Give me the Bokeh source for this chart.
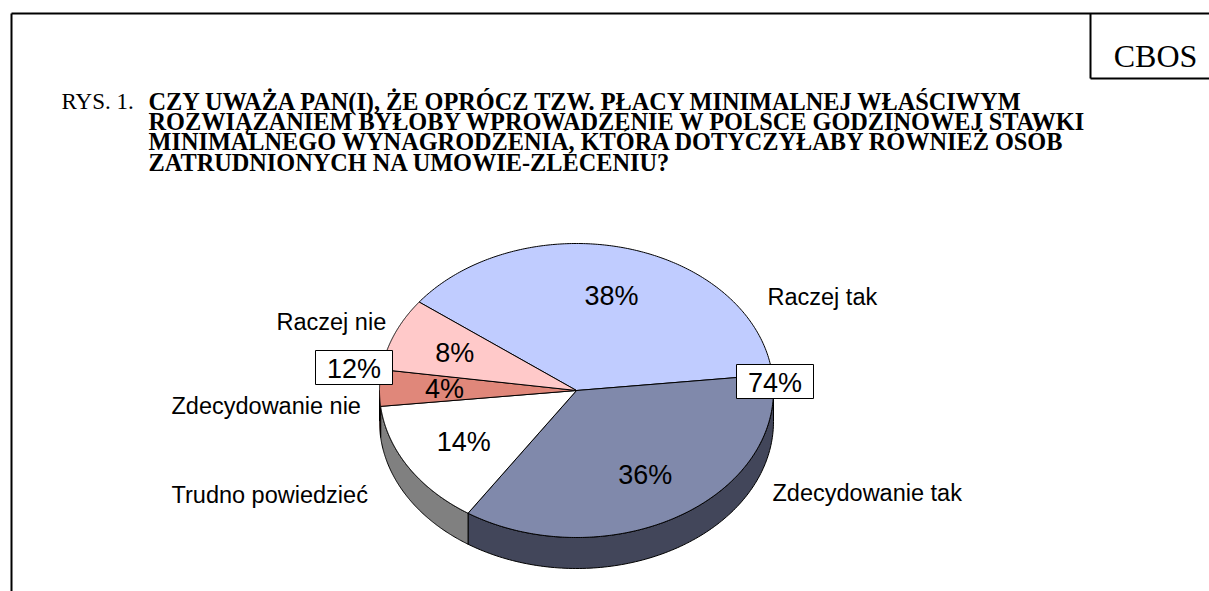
import numpy as np
from bokeh.plotting import figure
from bokeh.models import Range1d
from bokeh.core.properties import value
from bokeh.embed import file_html
from bokeh.resources import INLINE

# ---------------- data ----------------
categories = ["Raczej tak", "Zdecydowanie tak", "Trudno powiedzieć", "Zdecydowanie nie", "Raczej nie"]
values = [38, 36, 14, 4, 8]
top_colors = ["#C0CCFF", "#8089AB", "#FFFFFF", "#E0877A", "#FFC9C9"]
side_colors = ["#6F779A", "#42465A", "#808080", "#8A4A40", "#A07878"]
group_members = [[0, 1], [3, 4]]  # 74% and 12%

title_prefix = "RYS. 1."
title_lines = [
    "CZY UWAŻA PAN(I), ŻE OPRÓCZ TZW. PŁACY MINIMALNEJ WŁAŚCIWYM",
    "ROZWIĄZANIEM BYŁOBY WPROWADZENIE W POLSCE GODZINOWEJ STAWKI",
    "MINIMALNEGO WYNAGRODZENIA, KTÓRA DOTYCZYŁABY RÓWNIEŻ OSÓB",
    "ZATRUDNIONYCH NA UMOWIE-ZLECENIU?",
]
source_label = "CBOS"

# ---------------- layout ----------------
W, H = 1209, 591
CX, CY, RX, RY, DEPTH = 576, 390, 197, 147, 31
START = 143.0

p = figure(width=W, height=H, x_range=Range1d(0, W), y_range=Range1d(H, 0),
           output_backend="svg", toolbar_location=None, min_border=0,
           x_axis_type=None, y_axis_type=None)
p.grid.visible = False
p.outline_line_color = None
p.background_fill_color = "white"
p.border_fill_color = "white"


def ell(t_deg, r=1.0, dz=0.0):
    t = np.radians(t_deg)
    return CX + r * RX * np.cos(t), CY - r * RY * np.sin(t) + dz


total = float(sum(values))
starts, ends = [], []
acc = 0.0
for v in values:
    a0 = START - 360.0 * acc / total
    a1 = a0 - 360.0 * v / total
    starts.append(a0)
    ends.append(a1)
    acc += v

# side walls (front half only)
sxs, sys_, scol = [], [], []
for i in range(len(values)):
    for k in range(-2, 2):
        lo = max(ends[i], -180 + 360 * k)
        hi = min(starts[i], 360 * k)
        if hi > lo:
            ts = np.linspace(lo, hi, 120)
            tx, ty = ell(ts)
            bx, by = ell(ts, dz=DEPTH)
            sxs.append(list(tx) + list(bx[::-1]))
            sys_.append(list(ty) + list(by[::-1]))
            scol.append(side_colors[i])
p.patches(sxs, sys_, fill_color=scol, line_color="black", line_width=1)

# top faces
txs, tys = [], []
for i in range(len(values)):
    ts = np.linspace(starts[i], ends[i], 200)
    x, y = ell(ts)
    txs.append([CX] + list(x))
    tys.append([CY] + list(y))
p.patches(txs, tys, fill_color=top_colors, line_color="black", line_width=1)

# percentage labels inside slices
mids = [(a + b) / 2 for a, b in zip(starts, ends)]
lx, ly = ell(np.array(mids), r=0.67)
p.text(x=list(lx), y=list(ly), text=[f"{v}%" for v in values],
       text_align="center", text_baseline="middle",
       text_font=value("Liberation Sans"), text_font_size="27px", text_color="black")

# category labels
cat_x = [767, 772, 171, 171, 276]
cat_y = [296, 492, 494, 405, 321]
p.text(x=cat_x, y=cat_y, text=categories, text_align="left", text_baseline="middle",
       text_font=value("Liberation Sans"), text_font_size="23.5px", text_color="black")

# grouped totals in boxes
group_text = [f"{sum(values[j] for j in g)}%" for g in group_members]
box_l = [736, 315]
box_r = [813, 392]
box_t = [364, 350]
box_b = [398, 384]
p.quad(left=box_l, right=box_r, top=box_t, bottom=box_b,
       fill_color="white", line_color="black", line_width=1)
p.text(x=[(a + b) / 2 for a, b in zip(box_l, box_r)],
       y=[(a + b) / 2 + 1 for a, b in zip(box_t, box_b)],
       text=group_text, text_align="center", text_baseline="middle",
       text_font=value("Liberation Sans"), text_font_size="27px", text_color="black")

# frame and CBOS box
p.segment(x0=[11, 11, 1090, 1090], y0=[13, 13, 13, 78],
          x1=[W, 11, 1090, W], y1=[13, H, 78, 78],
          line_color="black", line_width=2)
p.text(x=[1155], y=[55], text=[source_label], text_align="center",
       text_baseline="alphabetic", text_font=value("Liberation Serif"),
       text_font_size="32px", text_color="black")

# title
p.text(x=[61], y=[101], text=[title_prefix], text_align="left", text_baseline="alphabetic",
       text_font=value("Liberation Serif"), text_font_size="23px", text_color="black")
p.text(x=[148] * len(title_lines), y=[101 + 20.2 * i for i in range(len(title_lines))],
       text=title_lines, text_align="left", text_baseline="alphabetic",
       text_font=value("Liberation Serif"), text_font_style="bold",
       text_font_size="24.3px", text_color="black")

open("out.html", "w").write(file_html(p, INLINE))
